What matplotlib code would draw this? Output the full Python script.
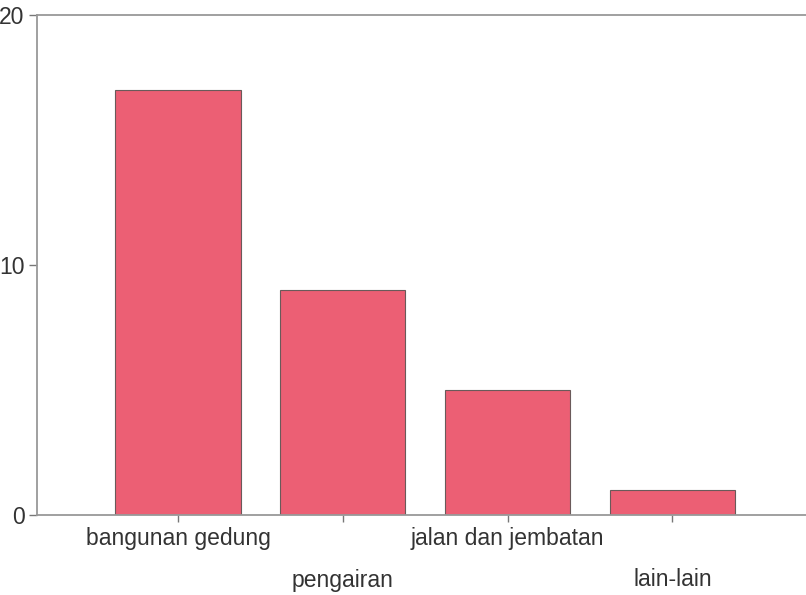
import matplotlib.pyplot as plt

categories = ["bangunan gedung", "pengairan", "jalan dan jembatan", "lain-lain"]
values = [17, 9, 5, 1]

plt.rcParams["font.family"] = ["Liberation Sans", "DejaVu Sans"]

fig = plt.figure(figsize=(8.06, 5.95), dpi=100)
ax = fig.add_axes([37 / 806, 80 / 595, 1 - 37 / 806, 500 / 595])

x = list(range(len(categories)))
ax.bar(x, values, width=0.76, color="#EC5F74", edgecolor="#6a5a5a", linewidth=0.8)

ax.set_xlim(-0.855, 3.81)
ax.set_ylim(0, 20)
ax.set_yticks([0, 10, 20])

# staggered category labels
labels = [c if i % 2 == 0 else "\n" + c for i, c in enumerate(categories)]
ax.set_xticks(x)
ax.set_xticklabels(labels, linespacing=2.0)

ax.tick_params(axis="both", labelsize=16.5, labelcolor="#333333", color="#777777",
               length=5, width=1, direction="out")
ax.tick_params(axis="x", pad=4)
ax.tick_params(axis="y", pad=3, length=6)

for side in ["left", "bottom", "top"]:
    ax.spines[side].set_color("#999999")
    ax.spines[side].set_linewidth(1.3)
ax.spines["right"].set_visible(False)

fig.savefig("out.png", dpi=100)
